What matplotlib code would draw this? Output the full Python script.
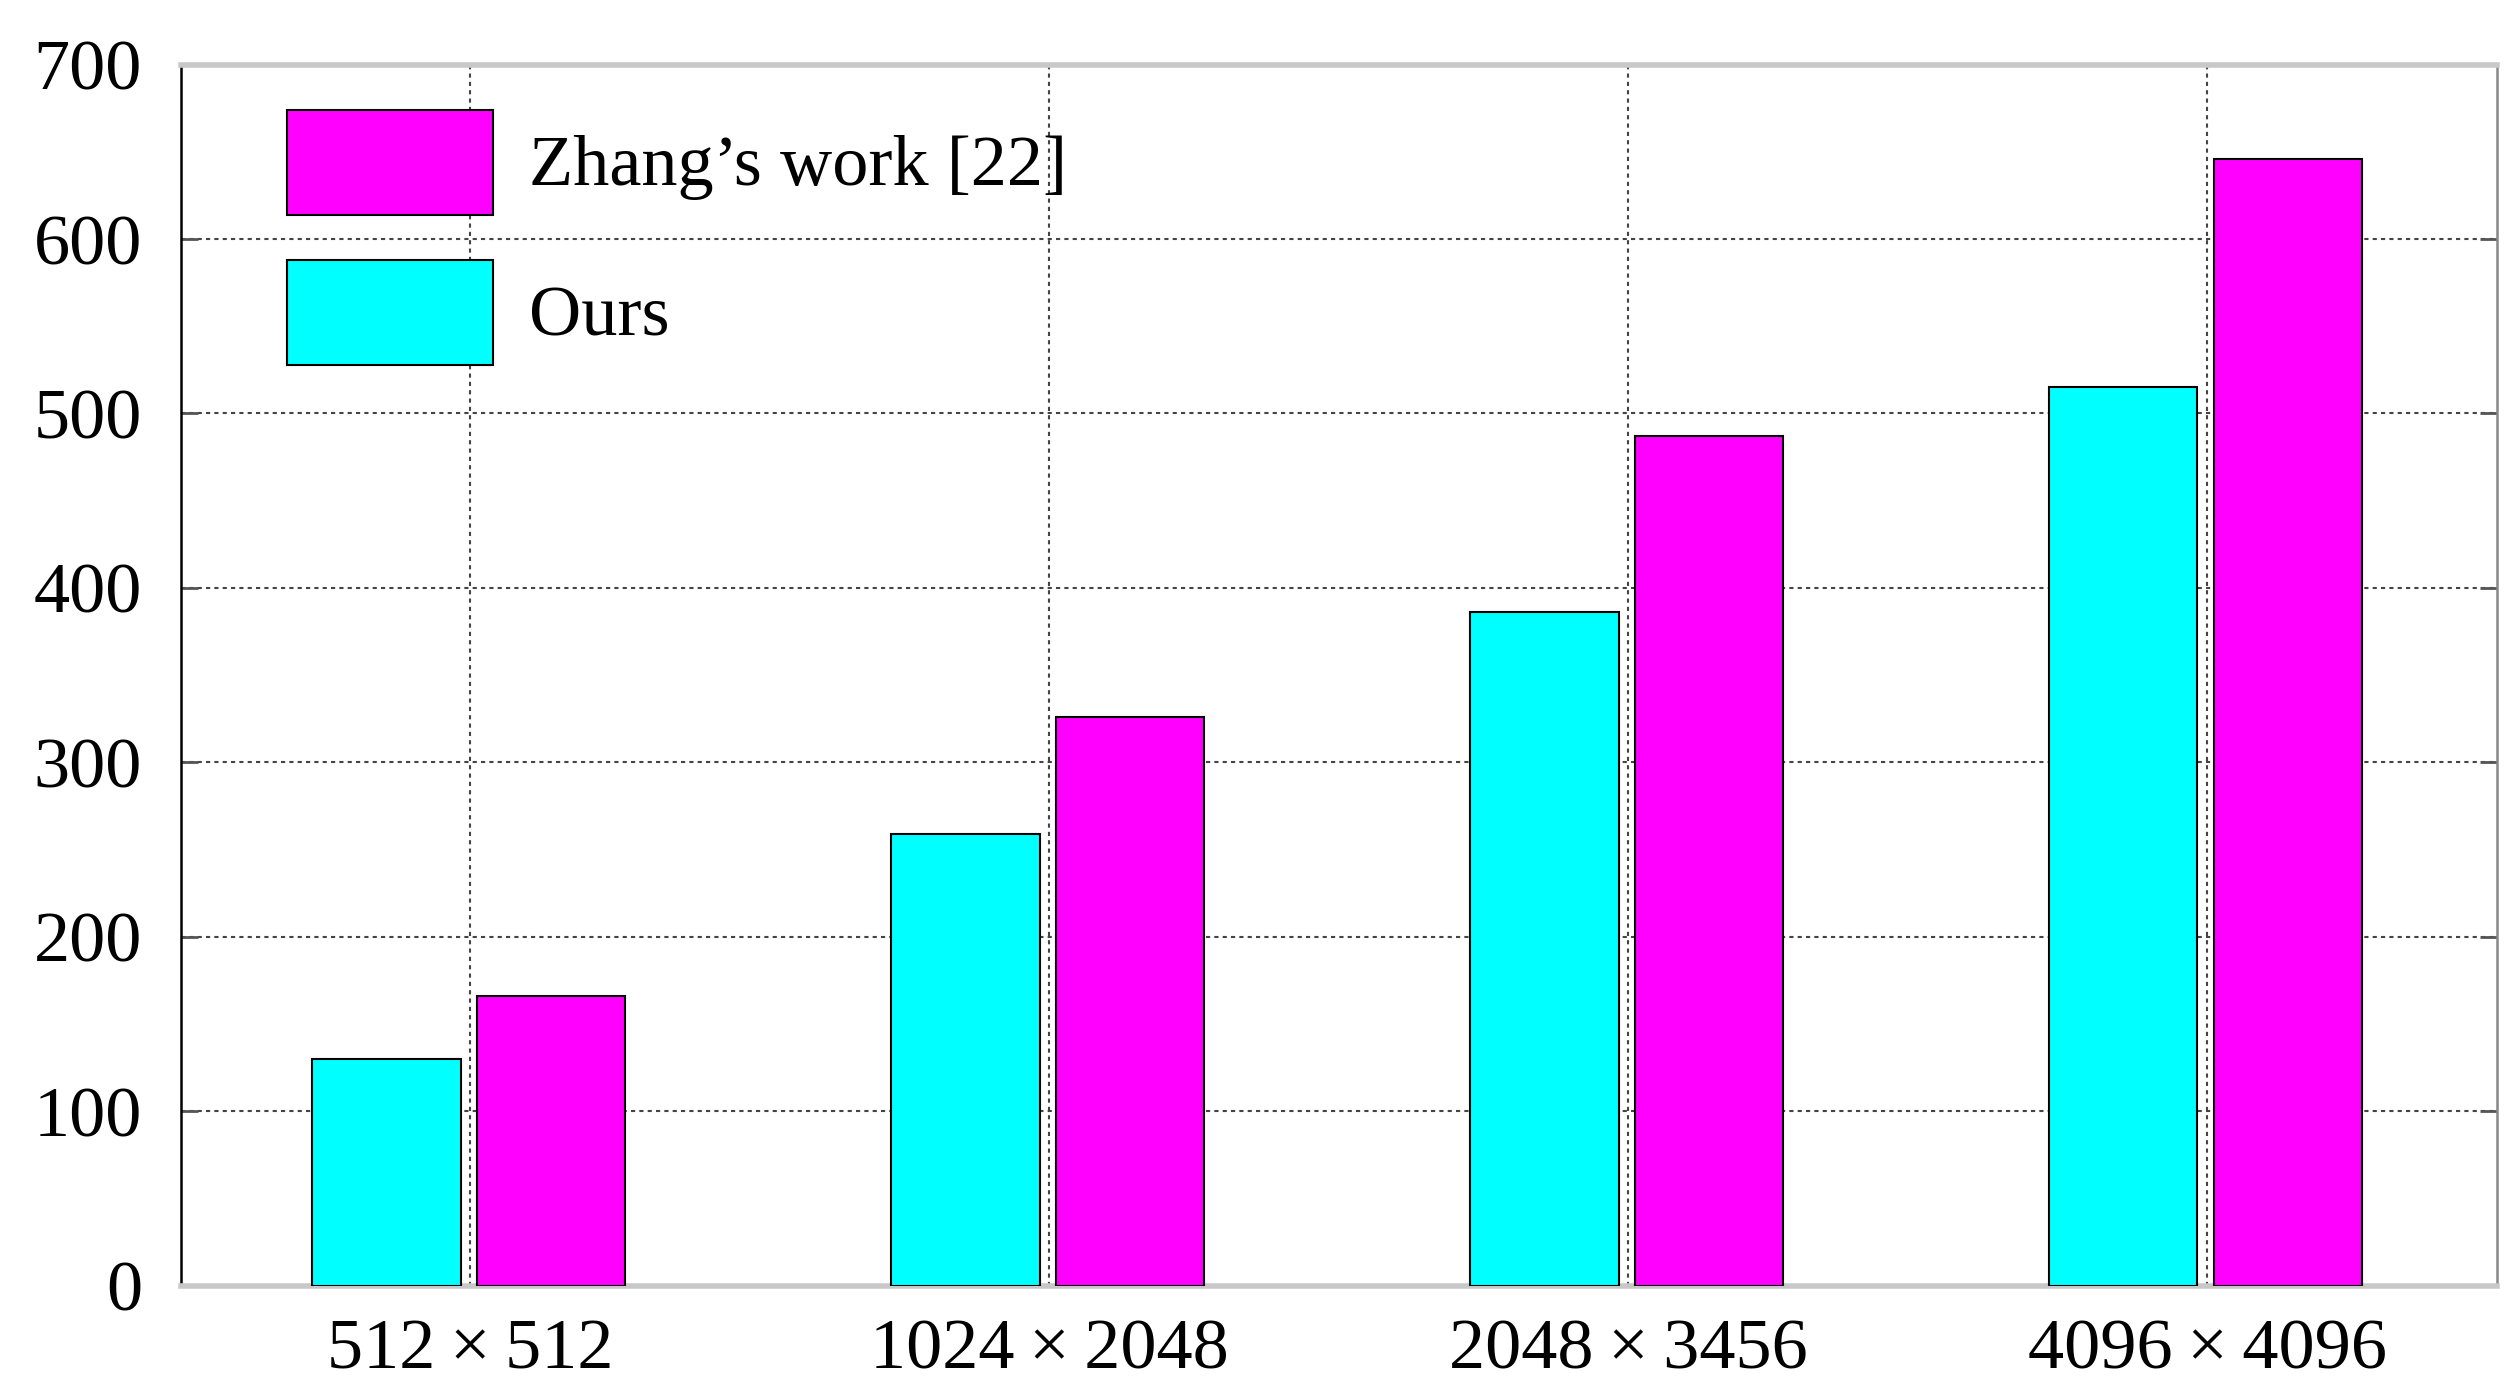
import numpy as np
import matplotlib.pyplot as plt

# image sizes on the x axis
sizes = ["512\u2009×\u2009512", "1024\u2009×\u20092048", "2048\u2009×\u20093456", "4096\u2009×\u20094096"]
ours = [130, 259, 386, 515]
zhang = [166, 326, 487, 646]
yticks = [0, 100, 200, 300, 400, 500, 600, 700]

plt.rcParams['font.family'] = ['Liberation Serif', 'DejaVu Serif']

fig = plt.figure(figsize=(25.2, 13.89), dpi=100)
ax = fig.add_axes([0.0718, 0.0744, 0.9190, 0.8791])

x = np.arange(len(sizes))
w = 0.256
b1 = ax.bar(x - 0.145, ours, w, color='#00FFFF', edgecolor='black', linewidth=1.5, label='Ours', zorder=3)
b2 = ax.bar(x + 0.139, zhang, w, color='#FF00FF', edgecolor='black', linewidth=1.5,
            label='Zhang\u2019s work [22]', zorder=3)

ax.set_xlim(-0.5, 3.5)
ax.set_ylim(0, 700)
ax.set_xticks(x)
ax.set_xticklabels(sizes, fontsize=52)
ax.set_yticks(yticks)
ax.set_yticklabels([str(v) for v in yticks], fontsize=52)

ax.set_axisbelow(True)
ax.grid(True, color='#444444', linestyle=(0, (2, 2)), linewidth=1.5)

ax.tick_params(axis='y', direction='in', left=True, right=True, length=12, width=2,
               color='#555555', pad=28)
ax.tick_params(axis='x', bottom=False, pad=20)

ax.spines['top'].set_color('#c8c8c8')
ax.spines['top'].set_linewidth(4)
ax.spines['bottom'].set_color('#c8c8c8')
ax.spines['bottom'].set_linewidth(4)
ax.spines['left'].set_color('black')
ax.spines['left'].set_linewidth(1.8)
ax.spines['right'].set_color('#888888')
ax.spines['right'].set_linewidth(1.8)

ax.legend([b2, b1], ['Zhang\u2019s work [22]', 'Ours'], loc='upper left',
          bbox_to_anchor=(0.046, 0.963), borderaxespad=0, borderpad=0,
          frameon=False, fontsize=52, handlelength=2.85, handleheight=1.86,
          labelspacing=0.62, handletextpad=0.5)

fig.savefig('out.png', dpi=100)
